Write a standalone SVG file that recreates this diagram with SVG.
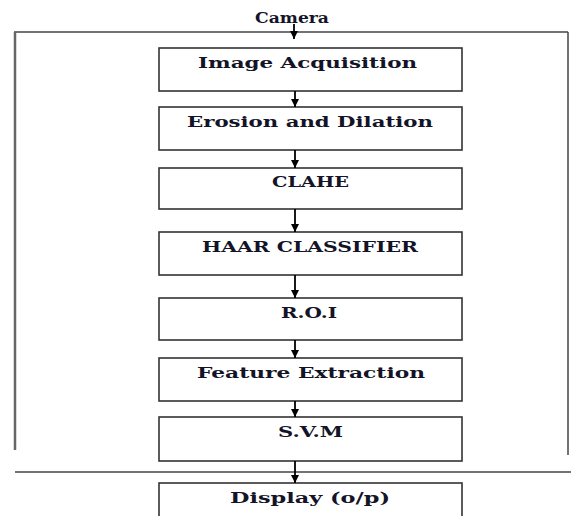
<svg xmlns="http://www.w3.org/2000/svg" width="571" height="516" viewBox="0 0 571 516">
<style>
.box{fill:#fff;stroke:#333;stroke-width:1.6}
.frame{fill:none;stroke:#444;stroke-width:1.5}
.lbl{font-family:"DejaVu Serif","Liberation Serif",serif;font-weight:bold;font-size:15px;fill:#141428;text-anchor:middle}
.con{stroke:#000;stroke-width:1.8;fill:none;marker-end:url(#ah)}
</style>
<defs>
<marker id="ah" viewBox="0 0 10 10" refX="10" refY="5" markerWidth="8" markerHeight="10" orient="auto" markerUnits="userSpaceOnUse">
<path d="M0,0 L10,5 L0,10 Z" fill="#000"/>
</marker>
</defs>
<rect width="571" height="516" fill="#fff"/>
<g id="frame">
<line class="frame" x1="14" y1="32" x2="568" y2="32"/>
<line x1="15" y1="32" x2="15" y2="450" stroke="#666" stroke-width="2.5"/>
<line class="frame" x1="568" y1="32" x2="568" y2="455"/>
<line class="frame" x1="15" y1="472" x2="571" y2="472"/>
</g>
<g id="camera"><text class="lbl" x="292" y="23" textLength="74" lengthAdjust="spacingAndGlyphs">Camera</text></g>
<g id="n1"><rect class="box" x="159" y="48" width="303" height="43"/><text class="lbl" x="307.5" y="68" textLength="219" lengthAdjust="spacingAndGlyphs">Image Acquisition</text></g>
<g id="n2"><rect class="box" x="159" y="107" width="303" height="43"/><text class="lbl" x="310" y="127" textLength="246" lengthAdjust="spacingAndGlyphs">Erosion and Dilation</text></g>
<g id="n3"><rect class="box" x="159" y="168" width="303" height="41"/><text class="lbl" x="310.5" y="187" textLength="77" lengthAdjust="spacingAndGlyphs">CLAHE</text></g>
<g id="n4"><rect class="box" x="159" y="232" width="303" height="43"/><text class="lbl" x="310" y="252" textLength="216" lengthAdjust="spacingAndGlyphs">HAAR CLASSIFIER</text></g>
<g id="n5"><rect class="box" x="159" y="298" width="303" height="42"/><text class="lbl" x="309" y="318" textLength="56" lengthAdjust="spacingAndGlyphs">R.O.I</text></g>
<g id="n6"><rect class="box" x="159" y="358" width="303" height="43"/><text class="lbl" x="311" y="378" textLength="228" lengthAdjust="spacingAndGlyphs">Feature Extraction</text></g>
<g id="n7"><rect class="box" x="159" y="417" width="303" height="44"/><text class="lbl" x="310.5" y="437" textLength="65" lengthAdjust="spacingAndGlyphs">S.V.M</text></g>
<g id="n8"><rect class="box" x="159" y="483" width="303" height="50"/><text class="lbl" x="310" y="503" textLength="160" lengthAdjust="spacingAndGlyphs">Display (o/p)</text></g>
<g id="connectors">
<line class="con" x1="294" y1="24" x2="294" y2="39"/>
<line class="con" x1="295" y1="91" x2="295" y2="107"/>
<line class="con" x1="295" y1="150" x2="295" y2="168"/>
<line class="con" x1="295" y1="209" x2="295" y2="232"/>
<line class="con" x1="295" y1="275" x2="295" y2="298"/>
<line class="con" x1="295" y1="340" x2="295" y2="358"/>
<line class="con" x1="295" y1="401" x2="295" y2="417"/>
<line class="con" x1="295" y1="461" x2="295" y2="483"/>
</g>
</svg>
